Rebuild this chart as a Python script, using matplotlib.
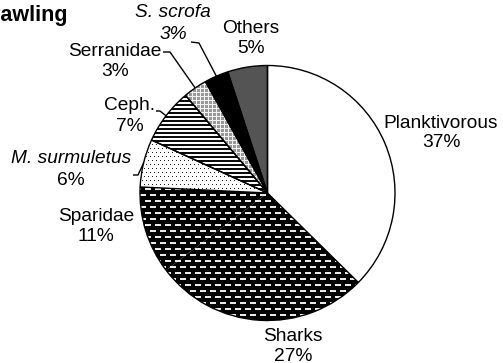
import numpy as np
import matplotlib
matplotlib.use("Agg")
import matplotlib.pyplot as plt
from matplotlib.patches import Arc

# Catch composition for trawling (percent of total)
categories = ["Planktivorous", "Sharks", "Sparidae", "M. surmuletus",
              "Ceph.", "Serranidae", "S. scrofa", "Others"]
values = [37, 27, 11, 6, 7, 3, 3, 5]
italic_name = [False, False, False, True, False, False, True, False]
italic_pct = [False, False, False, False, False, False, True, False]

W, H = 503, 363
plt.rcParams["font.family"] = ["Liberation Sans", "DejaVu Sans"]

fig = plt.figure(figsize=(W / 100, H / 100), dpi=100)
ax = fig.add_axes([0, 0, 1, 1])

cx, cy, R = 267.5, H - 193, 127.5


def img_y(y):
    return H - y


# --- fill textures, built in pixel space (row 0 = top) ---
rows, cols = np.mgrid[0:H, 0:W]


def texture(kind):
    t = np.ones((H, W))
    if kind == "dash":
        t[:] = 0.0
        off = np.where((rows // 6) % 2 == 1, 5, 0)
        t[((rows % 6) >= 2) & ((rows % 6) <= 3) & (((cols + off) % 10) < 6)] = 0.92
    elif kind == "dots":
        off = np.where((rows // 4) % 2 == 1, 2, 0)
        t[((rows % 4) == 0) & (((cols + off) % 4) == 0)] = 0.15
    elif kind == "stripes":
        t[(rows % 4) < 2] = 0.05
    elif kind == "grid":
        t[:] = 0.6
        t[((rows % 4) == 0) | ((cols % 4) == 0)] = 0.95
    elif kind == "black":
        t[:] = 0.0
    elif kind == "grey":
        t[:] = 0.33
    return np.dstack([t, t, t])


fills = ["white", "dash", "dash", "dots", "stripes", "grid", "black", "grey"]
# Sharks and Sparidae share one fill, so no border is drawn between them
outlined = [True, False, False, True, True, True, True, True]

wedges, _ = ax.pie(values, center=(cx, cy), radius=R, startangle=90,
                   counterclock=False, colors=["white"] * len(values),
                   wedgeprops=dict(linewidth=0))

for w, kind in zip(wedges, fills):
    if kind == "white":
        continue
    im = ax.imshow(texture(kind), extent=(0, W, 0, H), origin="upper",
                   interpolation="nearest", zorder=2)
    im.set_clip_path(w)

# outlines on top
outline_wedges, _ = ax.pie(values, center=(cx, cy), radius=R, startangle=90,
                           counterclock=False,
                           wedgeprops=dict(facecolor="none", edgecolor="black",
                                           linewidth=1.0, zorder=3))
for ow, keep in zip(outline_wedges, outlined):
    if not keep:
        ow.set_edgecolor("none")
        ax.add_patch(Arc((cx, cy), 2 * R, 2 * R, theta1=ow.theta1,
                         theta2=ow.theta2, color="black", lw=1.0, zorder=3))

ax.set_xlim(0, W)
ax.set_ylim(0, H)
ax.set_aspect("equal")
ax.axis("off")

# --- labels: (x centre, baseline of name, baseline of percent) in pixel rows ---
label_pos = {
    "Planktivorous": (441, 128, 147),
    "Sharks": (293, 341, 361),
    "Sparidae": (96, 221, 241),
    "M. surmuletus": (71, 163, 185),
    "Ceph.": (130, 110, 131),
    "Serranidae": (115, 56, 76),
    "S. scrofa": (173, 17, 39),
    "Others": (251, 33, 53),
}
fs = 13.8
for name, v, itn, itp in zip(categories, values, italic_name, italic_pct):
    x, b1, b2 = label_pos[name]
    ax.text(x, img_y(b1), name, ha="center", va="baseline", fontsize=fs,
            fontstyle="italic" if itn else "normal", zorder=5)
    ax.text(x, img_y(b2), f"{v}%", ha="center", va="baseline", fontsize=fs,
            fontstyle="italic" if itp else "normal", zorder=5)

# --- leader lines from label to wedge edge ---
leaders = {
    "M. surmuletus": [(133, 175), (138, 175)],
    "Ceph.": [(156, 111), (160, 111)],
    "Serranidae": [(163, 52), (170, 52)],
    "S. scrofa": [(191, 42), (199, 43)],
}
for w, name in zip(wedges, categories):
    if name not in leaders:
        continue
    mid = np.deg2rad((w.theta1 + w.theta2) / 2)
    ex, ey = cx + R * np.cos(mid), cy + R * np.sin(mid)
    pts = leaders[name]
    xs = [p[0] for p in pts] + [ex]
    ys = [img_y(p[1]) for p in pts] + [ey]
    ax.plot(xs, ys, color="black", lw=1.0, zorder=4, solid_capstyle="butt")

# panel title, running off the left edge
ax.text(68, img_y(21), "Trawling", ha="right", va="baseline", fontsize=15.5,
        fontweight="bold", zorder=5)

fig.savefig("out.png", dpi=100)
